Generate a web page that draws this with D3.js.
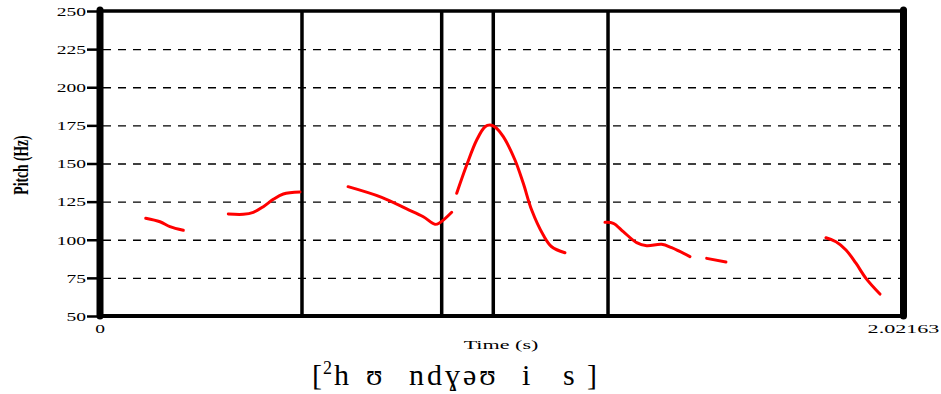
<!DOCTYPE html>
<html>
<head>
<meta charset="utf-8">
<script src="https://cdn.jsdelivr.net/npm/d3@7"></script>
<style>
  body { margin: 0; background: #fff; }
  svg { display: block; }
  text { font-family: "Liberation Serif", "DejaVu Serif", serif; fill: #000; }
</style>
</head>
<body>
<svg id="chart" width="941" height="394"></svg>
<script>
// Axis definitions
const duration = 2.02163;
const pitchMin = 50, pitchMax = 250;
const yTicks = [50, 75, 100, 125, 150, 175, 200, 225, 250];
const gridTicks = [75, 100, 125, 150, 175, 200, 225];
const xTickLabels = ["0", "2.02163"];

// Segment boundaries (s)
const boundaries = [0.5082, 0.8597, 0.9895, 1.2782];

// Pitch track, voiced stretches (time in s, pitch in Hz)
const seg1Time = [0.115, 0.151, 0.176, 0.2096];
const seg1Hz   = [114.1, 111.8, 108.6, 106.2];
const seg2Time = [0.3228, 0.3606, 0.3857, 0.4109, 0.436, 0.4612, 0.5032];
const seg2Hz   = [116.9, 116.7, 118.0, 121.7, 126.5, 130.0, 131.3];
const seg3Time = [0.6241, 0.7088, 0.7717, 0.8134, 0.8429, 0.8554, 0.8849];
const seg3Hz   = [134.8, 127.8, 120.2, 115.1, 110.1, 111.2, 118.0];
const seg4Time = [0.8975, 0.9226, 0.9478, 0.9687, 0.9812, 0.9938, 1.0147, 1.0441, 1.065, 1.0861, 1.1153, 1.1364, 1.1698];
const seg4Hz   = [130.5, 149.0, 165.4, 174.1, 175.2, 174.0, 167.6, 152.3, 137.0, 119.5, 103.1, 95.4, 91.5];
const seg5Time = [1.2706, 1.2915, 1.3166, 1.3503, 1.3754, 1.4131, 1.4383, 1.4843];
const seg5Hz   = [111.4, 110.8, 105.3, 98.1, 96.1, 97.0, 94.8, 88.9];
const seg6Time = [1.5264, 1.5749];
const seg6Hz   = [87.8, 85.4];
const seg7Time = [1.8266, 1.8518, 1.8769, 1.902, 1.9272, 1.9624];
const seg7Hz   = [101.3, 98.7, 93.3, 84.6, 74.7, 64.4];

// Transcription, split into the pieces that sit under each stretch
const transcription = ["[", "2", "h", "ʊ", "ndɣəʊ", "i", "s", "]"];

const segments = [
  [seg1Time, seg1Hz], [seg2Time, seg2Hz], [seg3Time, seg3Hz], [seg4Time, seg4Hz],
  [seg5Time, seg5Hz], [seg6Time, seg6Hz], [seg7Time, seg7Hz]
].map(([t, hz]) => t.map((v, i) => ({ t: v, hz: hz[i] })));

const svg = d3.select("#chart");
const plotLeft = 100, plotRight = 903.5, plotTop = 11, plotBottom = 316;

const x = d3.scaleLinear().domain([0, duration]).range([plotLeft, plotRight]);
const y = d3.scaleLinear().domain([pitchMin, pitchMax]).range([plotBottom, plotTop]);

// Dashed horizontal grid
svg.append("g")
  .attr("transform", `translate(${plotLeft + 3},0)`)
  .call(d3.axisLeft(y).tickValues(gridTicks).tickSize(-(plotRight - plotLeft - 6)).tickFormat(""))
  .call(g => g.select(".domain").remove())
  .call(g => g.selectAll(".tick line")
    .attr("stroke", "#000").attr("stroke-width", 1.4).attr("stroke-dasharray", "8,7"));

// Y axis ticks and labels
svg.append("g")
  .attr("transform", `translate(${plotLeft - 3},0)`)
  .call(d3.axisLeft(y).tickValues(yTicks).tickSize(10).tickPadding(0))
  .call(g => g.select(".domain").remove())
  .call(g => g.selectAll(".tick line").attr("stroke", "#000").attr("stroke-width", 2.5))
  .call(g => g.selectAll(".tick text")
    .attr("x", 0).attr("dy", "0.33em")
    .attr("transform", "translate(-11,0) scale(1.5,1)")
    .style("font-size", "13px"));

// Segment boundaries
svg.append("g").selectAll("line")
  .data(boundaries)
  .join("line")
  .attr("x1", d => x(d)).attr("x2", d => x(d))
  .attr("y1", plotTop).attr("y2", plotBottom)
  .attr("stroke", "#000").attr("stroke-width", 3.5);

// Plot frame
const frame = svg.append("g").attr("stroke", "#000");
frame.append("line").attr("x1", plotLeft).attr("x2", plotRight + 3).attr("y1", plotTop).attr("y2", plotTop).attr("stroke-width", 3.5);
frame.append("line").attr("x1", plotLeft).attr("x2", plotRight).attr("y1", plotBottom).attr("y2", plotBottom).attr("stroke-width", 4);
frame.append("line").attr("x1", plotLeft).attr("x2", plotLeft).attr("y1", plotTop - 1).attr("y2", plotBottom)
  .attr("stroke-width", 7).attr("stroke-linecap", "round");
frame.append("line").attr("x1", plotRight).attr("x2", plotRight).attr("y1", plotTop - 1).attr("y2", plotBottom)
  .attr("stroke-width", 7).attr("stroke-linecap", "round");

// Pitch curve
const line = d3.line().x(d => x(d.t)).y(d => y(d.hz)).curve(d3.curveCatmullRom.alpha(0.5));
svg.append("g").selectAll("path")
  .data(segments)
  .join("path")
  .attr("d", line)
  .attr("fill", "none")
  .attr("stroke", "#ff0000")
  .attr("stroke-width", 3)
  .attr("stroke-linecap", "round")
  .attr("stroke-linejoin", "round");

// Time labels at both ends
function wideText(str, cx, cy, size, sx, anchor, weight) {
  return svg.append("text")
    .attr("transform", `translate(${cx},${cy}) scale(${sx},1)`)
    .attr("text-anchor", anchor)
    .style("font-size", size + "px")
    .style("font-weight", weight || "normal")
    .text(str);
}
wideText(xTickLabels[0], x(0), 333, 13, 1.5, "middle");
wideText(xTickLabels[1], x(duration), 333, 13, 1.7, "middle");
wideText("Time (s)", 501, 349, 13, 1.7, "middle");

// Y axis title
svg.append("text")
  .attr("transform", "translate(28,165) rotate(-90) scale(0.68,1)")
  .attr("text-anchor", "middle")
  .style("font-size", "20px")
  .style("font-weight", "bold")
  .text("Pitch (Hz)");

// Transcription line
const trX = [312, 323, 334, 366, 409, 522, 563, 587];
const tr = svg.append("text").attr("y", 385).style("font-size", "30px");
tr.selectAll("tspan")
  .data(transcription)
  .join("tspan")
  .attr("x", (d, i) => trX[i])
  .attr("y", (d, i) => i === 1 ? 374 : 385)
  .style("font-size", (d, i) => i === 1 ? "18px" : "30px")
  .style("letter-spacing", (d, i) => i === 4 ? "3px" : "0px")
  .text(d => d);
</script>
</body>
</html>
